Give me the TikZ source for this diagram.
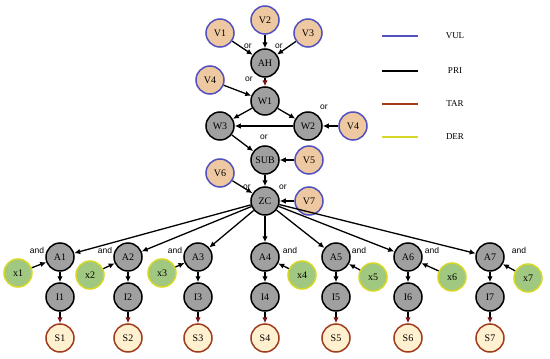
\documentclass[tikz,border=0pt]{standalone}
\usepackage{fontspec}
\setmainfont{Liberation Serif}
\newfontfamily\lblfont{Liberation Sans}
\usetikzlibrary{positioning,arrows.meta}
\definecolor{vulline}{RGB}{80,80,190}
\definecolor{vulfill}{RGB}{238,200,160}
\definecolor{prifill}{RGB}{160,160,160}
\definecolor{tarline}{RGB}{160,60,30}
\definecolor{tarfill}{RGB}{255,240,208}
\definecolor{derline}{RGB}{215,215,40}
\definecolor{derfill}{RGB}{160,200,128}
\definecolor{arrred}{RGB}{120,20,20}

\begin{document}
\begin{tikzpicture}[x=1pt,y=-1pt,>={Latex[length=6pt,width=5.5pt]},
  base/.style={circle,minimum size=28pt,inner sep=0pt,line width=1.5pt,font=\fontsize{10}{11}\selectfont},
  vul/.style={base,draw=vulline,fill=vulfill},
  pri/.style={base,draw=black,fill=prifill},
  tar/.style={base,draw=tarline,fill=tarfill},
  der/.style={base,draw=derline,fill=derfill},
  lbl/.style={font=\lblfont\fontsize{8.5}{9}\selectfont},
  edge/.style={->,line width=1.3pt}]
  \useasboundingbox (0,0) rectangle (550,359);
  % upper part
  \node[vul] (v1) at (220,33) {V1};
  \node[vul] (v2) at (265,20) {V2};
  \node[vul] (v3) at (308,33) {V3};
  \node[pri] (ah) at (265,63) {AH};
  \node[vul] (v4a) at (210,80) {V4};
  \node[pri] (w1) at (265,101) {W1};
  \node[pri] (w3) at (220,126) {W3};
  \node[pri] (w2) at (308,126) {W2};
  \node[vul] (v4b) at (353,126) {V4};
  \node[pri] (sub) at (265,160) {SUB};
  \node[vul] (v5) at (309,160) {V5};
  \node[vul] (v6) at (220,173) {V6};
  \node[pri] (zc) at (265,201) {ZC};
  \node[vul] (v7) at (309,201) {V7};
  \draw[edge] (v1) -- (ah);
  \draw[edge] (v2) -- (ah);
  \draw[edge] (v3) -- (ah);
  \draw[edge,-{Latex[length=6pt,width=5.5pt,color=arrred]}] (ah) -- (w1);
  \draw[edge] (v4a) -- (w1);
  \draw[edge] (w1) -- (w3);
  \draw[edge] (w1) -- (w2);
  \draw[edge] (w2) -- (w3);
  \draw[edge] (v4b) -- (w2);
  \draw[edge] (w3) -- (sub);
  \draw[edge] (v5) -- (sub);
  \draw[edge] (sub) -- (zc);
  \draw[edge] (v6) -- (zc);
  \draw[edge] (v7) -- (zc);
  \node[lbl] (or1) at (248,46) {or};
  \node[lbl] (or2) at (279,46) {or};
  \node[lbl] (or3) at (249,79) {or};
  \node[lbl] (or4) at (324,107) {or};
  \node[lbl] (or5) at (264,137) {or};
  \node[lbl] (or6) at (247,187) {or};
  \node[lbl] (or7) at (283,187) {or};
  % lower branches
  \foreach \i/\ax/\xx/\xy/\lx in {1/60/18/273/37,2/128/90/275/105,3/198/162/273/175,
      4/265/302/275/290,5/336/373/277/359,6/408/452/277/432,7/490/528/278/519} {
    \node[pri] (a\i) at (\ax,257) {A\i};
    \node[pri] (i\i) at (\ax,297) {I\i};
    \node[tar] (s\i) at (\ax,338) {S\i};
    \node[der] (x\i) at (\xx,\xy) {x\i};
    \node[lbl] (and\i) at (\lx,250) {and};
    \draw[edge] (zc) -- (a\i);
    \draw[edge] (x\i) -- (a\i);
    \draw[edge] (a\i) -- (i\i);
    \draw[edge,-{Latex[length=6pt,width=5.5pt,color=arrred]}] (i\i) -- (s\i);
  }
  % legend
  \foreach \n/\c/\y in {VUL/vulline/36,PRI/black/71,TAR/tarline/104,DER/derline/137} {
    \coordinate (l\n a) at (382,\y);
    \coordinate (l\n b) at (418,\y);
    \draw[line width=1.2pt,\c] (l\n a) -- (l\n b);
    \node[font=\fontsize{9}{10}\selectfont] (t\n) at (455,\y) {\n};
  }
\end{tikzpicture}
\end{document}
